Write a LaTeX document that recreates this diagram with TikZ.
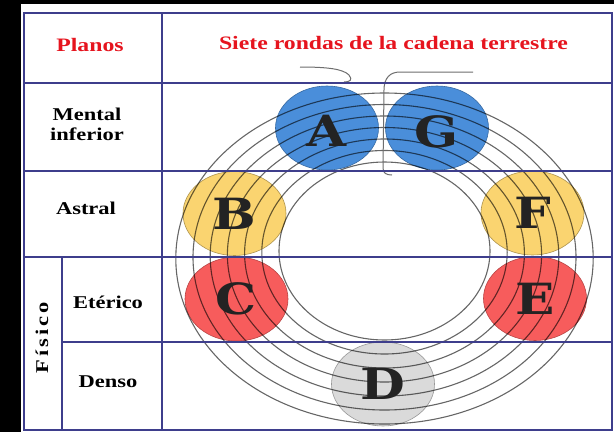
\documentclass[tikz,border=0pt]{standalone}
\usepackage{fontspec}
\setmainfont{Liberation Serif}[FakeStretch=1.25]
\newfontfamily\letfont{DejaVu Serif}[FakeStretch=1.2]
\usetikzlibrary{shapes.geometric}
\definecolor{tabline}{RGB}{62,62,140}
\definecolor{planetblue}{RGB}{74,142,218}
\definecolor{planetyellow}{RGB}{250,212,112}
\definecolor{planetred}{RGB}{247,92,92}
\definecolor{planetgray}{RGB}{218,218,218}
\definecolor{titlered}{RGB}{230,20,30}
\definecolor{letterdark}{RGB}{35,35,35}
\definecolor{hookgray}{RGB}{110,110,110}
\begin{document}
\begin{tikzpicture}[x=1pt,y=-1pt,
  planet/.style={ellipse,minimum width=103pt,minimum height=84pt,inner sep=0pt,line width=0.6pt},
  ring/.style={draw=black,opacity=0.6,line width=1.1pt},
  hook/.style={draw=hookgray,line width=1pt},
  tab/.style={draw=tabline,line width=1.1pt},
  bigletter/.style={text=letterdark,font=\letfont\bfseries\fontsize{43}{43}\selectfont,inner sep=0pt},
  rowlabel/.style={font=\bfseries\fontsize{18}{20}\selectfont,align=center,inner sep=0pt},
  headlabel/.style={text=titlered,font=\bfseries\fontsize{19}{21}\selectfont,inner sep=0pt}]
\useasboundingbox (0,0) rectangle (614,432);
\fill[black] (0,0) rectangle (614,432);
\fill[white] (21,4) rectangle (614,432);
% planets
\node[planet,fill=planetblue,draw=planetblue!75!black] (pA) at (327,128) {};
\node[planet,fill=planetblue,draw=planetblue!75!black] (pG) at (437,128) {};
\node[planet,fill=planetyellow,draw=planetyellow!70!black] (pB) at (234.5,213.5) {};
\node[planet,fill=planetyellow,draw=planetyellow!70!black] (pF) at (532.5,213) {};
\node[planet,fill=planetred,draw=planetred!75!black] (pC) at (236.5,299) {};
\node[planet,fill=planetred,draw=planetred!75!black] (pE) at (535,298.5) {};
\node[planet,fill=planetgray,draw=planetgray!70!black] (pD) at (383,384) {};
% rings
\foreach \i in {0,...,6}{
  \draw[ring] (384.5,{251+1.25*\i}) ellipse [x radius={(105.5+17.2*\i)*1pt}, y radius={(89+12.75*\i)*1pt}];
}
% hook lines
\coordinate (h1) at (300,67);
\coordinate (h2) at (344,82);
\draw[hook] (h1) .. controls (328,67) and (343,69) .. (349,75) .. controls (353,80) and (350,82) .. (h2);
\coordinate (g1) at (473,72);
\coordinate (g2) at (392,175);
\draw[hook] (g1) -- (400,72) .. controls (390,72) and (384,78) .. (384,90) -- (383,168) .. controls (383,173) and (386,175) .. (g2);
% table
\draw[tab] (24,13) rectangle (612,430);
\draw[tab] (162,13) -- (162,430);
\draw[tab] (62,257) -- (62,430);
\draw[tab] (24,83) -- (612,83);
\draw[tab] (24,171) -- (612,171);
\draw[tab] (24,257) -- (612,257);
\draw[tab] (62,342) -- (612,342);
% letters
\node[bigletter] (lA) at ([yshift=-3pt]pA.center) {A};
\node[bigletter] (lG) at ([yshift=-4pt]pG.center) {G};
\node[bigletter] (lB) at (pB.center) {B};
\node[bigletter] (lF) at (pF.center) {F};
\node[bigletter] (lC) at (pC.center) {C};
\node[bigletter] (lE) at (pE.center) {E};
\node[bigletter] (lD) at (pD.center) {D};
% labels
\node[headlabel] (planos) at (90,45) {Planos};
\node[headlabel] (title) at (393.5,43) {Siete rondas de la cadena terrestre};
\node[rowlabel] (mental) at (87,114) {Mental};
\node[rowlabel] (inferior) at (87,134) {inferior};
\node[rowlabel] (astral) at (86,208) {Astral};
\node[rowlabel] (eterico) at (108,302) {Etérico};
\node[rowlabel] (denso) at (108,382) {Denso};
\node[rowlabel,rotate=90] (fisico) at (42,338) {F\hspace{3pt}í\hspace{3pt}s\hspace{3pt}i\hspace{3pt}c\hspace{3pt}o};
\end{tikzpicture}
\end{document}
